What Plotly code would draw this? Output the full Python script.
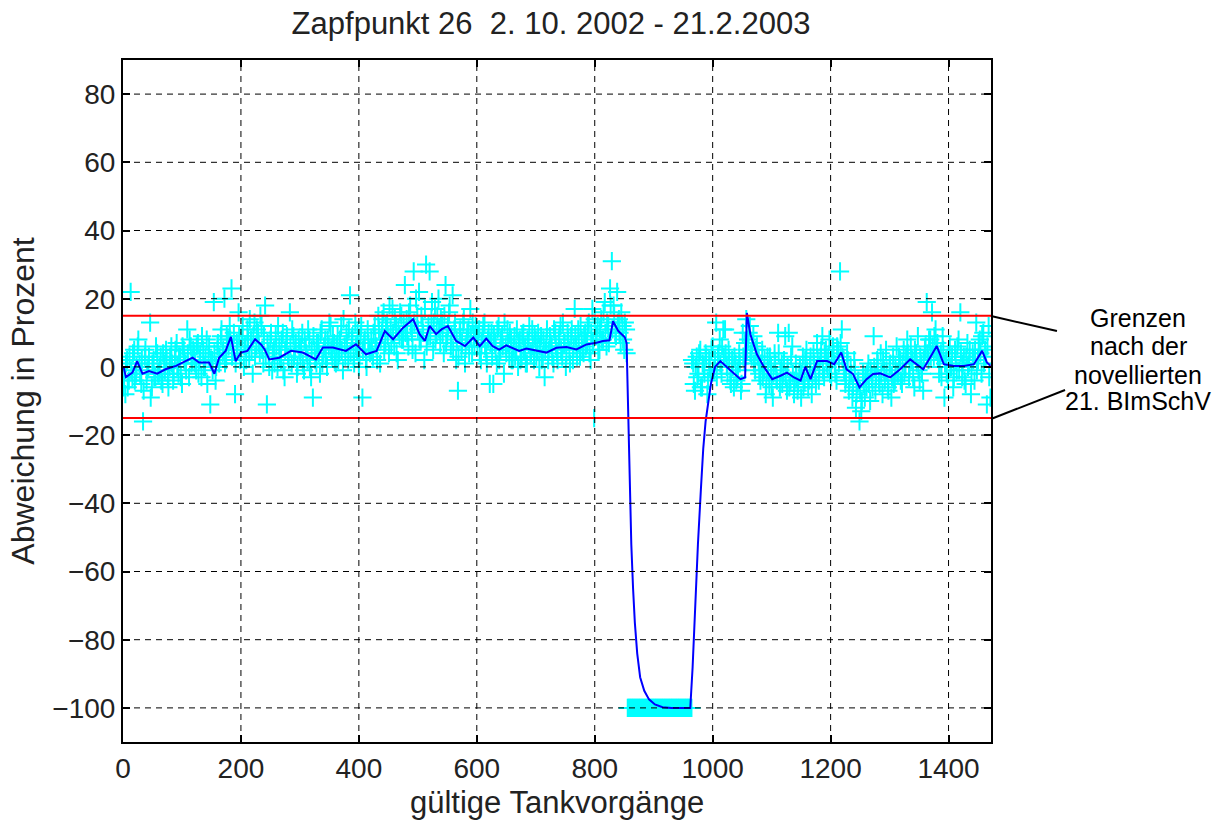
import plotly.graph_objects as go

# ---------------- data ----------------
# x positions of the sampled measurements (two interleaved samples)
vorgang_a = list(range(1, 1472, 3))
vorgang_b = list(range(2, 1472, 3))

# measured deviation in percent (cyan "+"), sample a
abweichung_a = [
    # 1 - 58
    -6, -8, 2, -4, 22, -3, 5, -2, 6, 1, -5, -16, 3, -4, 0, 13, -6, 2, -3, 4,
    # 61 - 118
    -2, 3, -5, 1, 5, -3, 0, 6, -4, 2, 7, -2, 3, -5, 5, 1, 11, -3, 6, 2,
    # 121 - 178
    4, -1, 7, 2, -3, 5, 0, 8, 3, -11, 2, 19, -4, 6, 1, 9, 4, 20, 2, 8,
    # 181 - 238
    12, 23, 5, -8, 7, 16, 2, 9, 0, 6, 11, 3, 8, -2, 13, 6, 10, 4, 12, 1,
    # 241 - 298
    18, -11, 4, 8, -1, 5, 9, 0, 6, 2, 10, -3, 7, 3, 16, 1, 9, 5, -2, 8,
    # 301 - 358
    3, 10, -1, 6, 2, 8, -3, -9, 5, 1, 7, -2, 11, 4, 8, 0, 6, 12, 3, 7,
    # 361 - 418
    1, 9, 4, 12, -1, 6, 10, 2, 21, 8, 3, 13, 5, 0, 9, -9, 7, 2, 11, 5,
    # 421 - 478
    8, 3, 12, 6, 15, 1, 10, 16, 7, 13, 4, 11, 17, 6, 12, 2, 9, 15, 8, 24,
    # 481 - 538
    14, 6, 18, 10, 28, 4, 15, 22, 8, 12, 2, 30, 9, 28, 14, 5, 17, 10, 20, 7,
    # 541 - 598
    13, 4, 24, 9, 16, 6, 21, 11, 2, -7, 10, 5, 13, 1, 8, 11, 17, 4, 9, 12,
    # 601 - 658
    6, 11, 2, 9, 13, 4, 8, -5, 10, -5, 7, 1, 12, 5, 9, -2, 6, 11, 3, 8,
    # 661 - 718
    2, 9, 5, 0, 8, 3, 10, 6, 1, 7, 4, 11, 2, 8, 5, 0, 9, 3, -3, 7,
    # 721 - 778
    2, 9, 6, 1, 10, 4, 8, 12, 3, 7, 0, 10, 5, 9, 2, 17, 6, 11, 3, 8,
    # 781 - 838
    4, 10, 7, 13, 2, 17, -15, 9, 12, 5, 14, 8, 19, 6, 12, 23, 31, 18, 10, 22,
    # 841 - 898
    14, 7, 12, 5, 11, -100, -100, -100, -100, -100, -100, -100, -100, -100,
    -100, -100, -100, -100, -100, -100,
    # 901 - 958
    -100, -100, -100, -100, -100, -100, -100, -100, -100, -100,
    -100, -100, -100, -100, -100, -100, -100, -100, -100, -100,
    # 961 - 1018
    -100, -100, 1, -7, 3, -2, 5, -6, 0, 4, -8, 2, -3, 6, -1, 13, 3, 8, -2, 11,
    # 1021 - 1078
    11, 0, 5, -4, 2, -6, 1, -3, 4, -7, 10, 2, 14, 8, 12, 3, 9, -1, 6, 2,
    # 1081 - 1138
    -4, 5, -1, -8, 3, -5, 0, -9, 4, -3, 10, -6, 1, -2, 9, -7, 10, -4, 6, -8,
    # 1141 - 1198
    1, -7, -2, -9, 3, -4, 5, -6, 0, -8, 4, -2, 7, -4, 3, 9, -3, 5, 0, 8,
    # 1201 - 1258
    -3, 6, 1, -4, 5, 28, 11, 2, -5, 4, -7, 0, -9, 2, -12, -5, -16, -13, -2, -9,
    # 1261 - 1318
    -6, 1, -10, -3, 9, -7, 2, -4, 4, -8, -1, 5, -6, 0, -9, 3, -4, 6, -2, 2,
    # 1321 - 1378
    -5, 5, 0, 8, -3, 6, 2, -6, 4, 9, -4, 1, -7, 5, 19, 2, 8, 16, 3, 11,
    # 1381 - 1438
    7, -2, 4, 9, -9, 2, -4, 6, 0, -6, 5, -1, 8, 16, -3, 3, -5, 7, 1, -8,
    # 1441 - 1471
    4, -4, 13, 2, 8, -2, 10, 5, -11, 12, -9,
]

# measured deviation in percent (cyan "+"), sample b
abweichung_b = [
    # 2 - 59
    -3, 1, -6, 3, -1, 4, -4, 0, 8, -2, 2, -7, 5, -1, 3, -9, 1, -3, 6, -2,
    # 62 - 119
    0, -4, 4, -1, 2, -6, 3, 1, -2, 5, 0, 3, -3, 6, 2, -1, 4, 8, 1, 5,
    # 122 - 179
    1, 6, -2, 4, 9, 0, 3, -5, 6, 2, -1, 4, 0, 7, 3, 11, 5, 1, 9, 6,
    # 182 - 239
    8, 3, 10, 1, 5, 9, 4, 12, 6, 2, 8, 14, 5, 9, 3, 11, 7, 15, 5, 9,
    # 242 - 299
    3, 7, 0, 10, 4, 1, 6, 12, 3, 8, -1, 5, 9, 2, 6, 11, 3, 7, 0, 5,
    # 302 - 359
    6, 1, 8, 4, 11, 0, 5, 9, 2, 7, 4, 10, 1, 6, 3, 8, 13, 5, 9, 2,
    # 362 - 419
    6, 2, 8, 5, 14, 3, 7, 11, 4, 9, 1, 6, 10, 3, 12, 5, 8, 0, 7, 4,
    # 422 - 479
    5, 10, 7, 2, 11, 8, 14, 5, 12, 9, 18, 7, 10, 14, 4, 11, 16, 8, 13, 10,
    # 482 - 539
    9, 16, 12, 5, 13, 20, 11, 8, 15, 10, 17, 6, 12, 9, 19, 13, 8, 15, 11, 14,
    # 542 - 599
    10, 15, 7, 12, 18, 9, 5, 13, 8, 3, 11, 7, 14, 6, 10, 4, 9, 13, 6, 10,
    # 602 - 659
    9, 4, 7, 12, 6, 1, 10, 7, 3, 9, 5, 11, 2, 8, 6, 13, 4, 7, 10, 2,
    # 662 - 719
    6, 3, 11, 7, 2, 9, 5, 1, 8, 12, 4, 6, 9, 3, 10, 6, 2, 8, 5, 11,
    # 722 - 779
    5, 7, 3, 11, 6, 2, 9, 5, 13, 7, 4, 8, 1, 11, 6, 9, 3, 7, 12, 5,
    # 782 - 839
    9, 6, 12, 4, 10, 7, 14, 9, 5, 11, 8, 16, 10, 13, 7, 18, 11, 15, 9, 13,
    # 842 - 899
    10, 16, 8, 13, 4, -100, -100, -100, -100, -100, -100, -100, -100, -100,
    -100, -100, -100, -100, -100, -100,
    # 902 - 959
    -100, -100, -100, -100, -100, -100, -100, -100, -100, -100,
    -100, -100, -100, -100, -100, -100, -100, -100, -100, -100,
    # 962 - 1019
    -100, 2, -5, 0, -3, 4, -6, 1, -2, 3, -4, 0, 5, -1, 2, -3, 4, 1, 6, 3,
    # 1022 - 1079
    4, -2, 2, -5, 0, 3, -4, -1, 1, -5, 3, 7, 5, 10, 4, 7, 1, 5, 3, -2,
    # 1082 - 1139
    1, -3, 2, -5, -1, 3, -6, -2, 1, -4, 4, -1, -5, 2, -3, 0, -6, 3, -2, -4,
    # 1142 - 1199
    -3, -5, 0, -2, -6, 2, -1, -4, 3, -3, 1, -5, 2, 0, 5, -1, 4, 1, 3, -2,
    # 1202 - 1259
    2, 4, -2, 6, 1, 7, 3, -1, -3, 2, -4, -2, -6, -1, -8, -4, -7, -10, -5, -3,
    # 1262 - 1319
    -2, -5, -1, -6, 0, -3, 1, -5, -2, 2, -4, -1, -7, 1, -3, -5, 0, -2, 3, -4,
    # 1322 - 1379
    1, -2, 3, 4, 0, 2, -3, 5, 1, -1, 3, -2, 2, 6, 4, 8, 3, 6, 9, 5,
    # 1382 - 1439
    3, 0, -3, 5, 1, -2, 4, 0, 3, -3, 2, 6, -1, 4, 1, -4, 3, 0, 5, -2,
    # 1442 - 1469
    2, 5, -1, 7, 4, 9, 1, 3, 6, -3,
]

# filtered (smoothed) deviation, blue line
filter_x = [1, 5, 16, 24, 33, 44, 58, 72, 90, 106, 118, 129, 146, 155, 163,
            174, 183, 191, 200, 211, 224, 234, 240, 248, 265, 285, 305, 327,
            339, 356, 378, 395, 412, 430, 444, 458, 475, 492, 503, 512, 520,
            531, 540, 551, 565, 580, 594, 605, 616, 627, 638, 650, 661, 672,
            684, 701, 718, 735, 752, 769, 786, 803, 814, 825, 831, 840, 851,
            854, 856, 858, 860, 862, 865, 868, 872, 877, 884, 892, 902, 915,
            930, 962, 966, 970, 975, 980, 984, 988, 992, 997, 1004, 1013,
            1030, 1047, 1055, 1058, 1064, 1075, 1087, 1101, 1115, 1126, 1138,
            1149, 1157, 1166, 1177, 1194, 1206, 1218, 1227, 1238, 1249, 1261,
            1272, 1284, 1301, 1318, 1335, 1346, 1357, 1372, 1380, 1392, 1409,
            1426, 1443, 1457, 1465, 1471]
filter_y = [0, -3, -1.7, 1.7, -2, -1.2, -2, -0.7, 0.3, 1.7, 2.7, 1.3, 1.3, -2,
            2.7, 4.7, 8.8, 1.7, 4.2, 4.7, 8.1, 6.6, 5.2, 2.2, 2.7, 4.7, 4.2,
            2.2, 5.7, 5.7, 4.7, 6.6, 3.7, 4.7, 10.5, 8.1, 11.5, 14, 9.6, 7.6,
            12, 9.6, 11, 12, 7.6, 6.1, 8.6, 6.1, 8.3, 6.1, 5.1, 6.3, 5.6, 4.7,
            5.4, 4.7, 4.2, 5.6, 5.8, 5.1, 6.6, 7.1, 7.6, 7.8, 13.4, 10.5, 8.7,
            7, -10, -25, -40, -52, -65, -75, -84, -91, -95, -97.5, -99, -99.8,
            -100, -100, -88, -70, -52, -36, -24, -16, -11, -5, 0, 1.7,
            -1, -3.6, -3.1, 15.8, 9.5, 3.7, 0, -3.6, -2.6, -1.7, -3.1,
            -4, 0, -3.6, 1.7, 1.7, 0.8, 4.2, -0.7, -2.1, -6, -3.6,
            -2.1, -1.9, -3.1, -0.7, 2.2, 0.8, -0.7, 3.7, 6.1, 0.8, 0.3,
            0.3, 0.8, 4.7, 1.3, 0.3]

grenze = 15                      # limits of the amended 21. BImSchV (+/- %)
x_max = 1472
x_ticks = [0, 200, 400, 600, 800, 1000, 1200, 1400]
y_ticks = [-100, -80, -60, -40, -20, 0, 20, 40, 60, 80]
y_range = [-110, 90]

titel = "Zapfpunkt 26  2. 10. 2002 - 21.2.2003"
x_titel = "gültige Tankvorgänge"
y_titel = "Abweichung in Prozent"
hinweis = ["Grenzen", "nach der", "novellierten", "21. BImSchV"]

# ---------------- figure ----------------
FONT = "Liberation Sans, Arial, Helvetica, sans-serif"
TXT = "#222222"

fig = go.Figure()

cross = dict(symbol="cross-thin-open", size=13, color="#00FFFF",
             line=dict(color="#00FFFF", width=2))
fig.add_trace(go.Scatter(x=vorgang_a, y=abweichung_a, mode="markers",
                         marker=cross, showlegend=False))
fig.add_trace(go.Scatter(x=vorgang_b, y=abweichung_b, mode="markers",
                         marker=cross, showlegend=False))

fig.add_trace(go.Scatter(
    x=filter_x, y=filter_y, mode="lines",
    line=dict(color="#0000FF", width=2), showlegend=False))

for g in (grenze, -grenze):
    fig.add_trace(go.Scatter(
        x=[0, x_max], y=[g, g], mode="lines",
        line=dict(color="#FF0000", width=2), showlegend=False))

# dashed grid drawn above the data (as in the original)
shapes = []
for xv in x_ticks[1:]:
    shapes.append(dict(type="line", xref="x", yref="y", x0=xv, x1=xv,
                       y0=y_range[0], y1=y_range[1], layer="above",
                       line=dict(color="black", width=1, dash="6px,5px")))
for yv in y_ticks:
    shapes.append(dict(type="line", xref="x", yref="y", x0=0, x1=x_max,
                       y0=yv, y1=yv, layer="above",
                       line=dict(color="black", width=1, dash="6px,5px")))

# leader lines to the note
shapes.append(dict(type="line", xref="paper", yref="paper",
                   x0=1.0, y0=0.6246, x1=1.076, y1=0.6026,
                   line=dict(color="black", width=2)))
shapes.append(dict(type="line", xref="paper", yref="paper",
                   x0=1.0, y0=0.4736, x1=1.0853, y1=0.5161,
                   line=dict(color="black", width=2)))

annotations = []
for txt, yp in zip(hinweis, [0.6217, 0.5806, 0.5381, 0.5]):
    annotations.append(dict(text=txt, xref="paper", yref="paper",
                            x=1.1694, y=yp, xanchor="center",
                            yanchor="middle", showarrow=False,
                            font=dict(family=FONT, size=25, color="black")))

# x axis title, placed as in the original
annotations.append(dict(text=x_titel, xref="paper", yref="paper",
                        x=0.5, y=-0.088, xanchor="center", yanchor="middle",
                        showarrow=False,
                        font=dict(family=FONT, size=31, color=TXT)))

axis_common = dict(
    showline=True, linecolor="black", linewidth=2, mirror="ticks",
    ticks="inside", ticklen=7, tickcolor="black", tickwidth=1.5,
    showgrid=False, zeroline=False, layer="above traces",
    tickfont=dict(family=FONT, size=28, color=TXT),
)

fig.update_layout(
    width=1223, height=825,
    margin=dict(l=123, r=232, t=60, b=83),
    paper_bgcolor="white", plot_bgcolor="white",
    title=dict(text=titel, x=551 / 1223, xanchor="center",
               y=1 - 23 / 825, yanchor="middle", yref="container",
               font=dict(family=FONT, size=31, color=TXT)),
    xaxis=dict(range=[0, x_max], tickvals=x_ticks, **axis_common),
    yaxis=dict(range=y_range, tickvals=y_ticks, **axis_common,
               title=dict(text=y_titel, standoff=8,
                          font=dict(family=FONT, size=32, color=TXT))),
    shapes=shapes, annotations=annotations,
)

fig.write_html("out.html")
